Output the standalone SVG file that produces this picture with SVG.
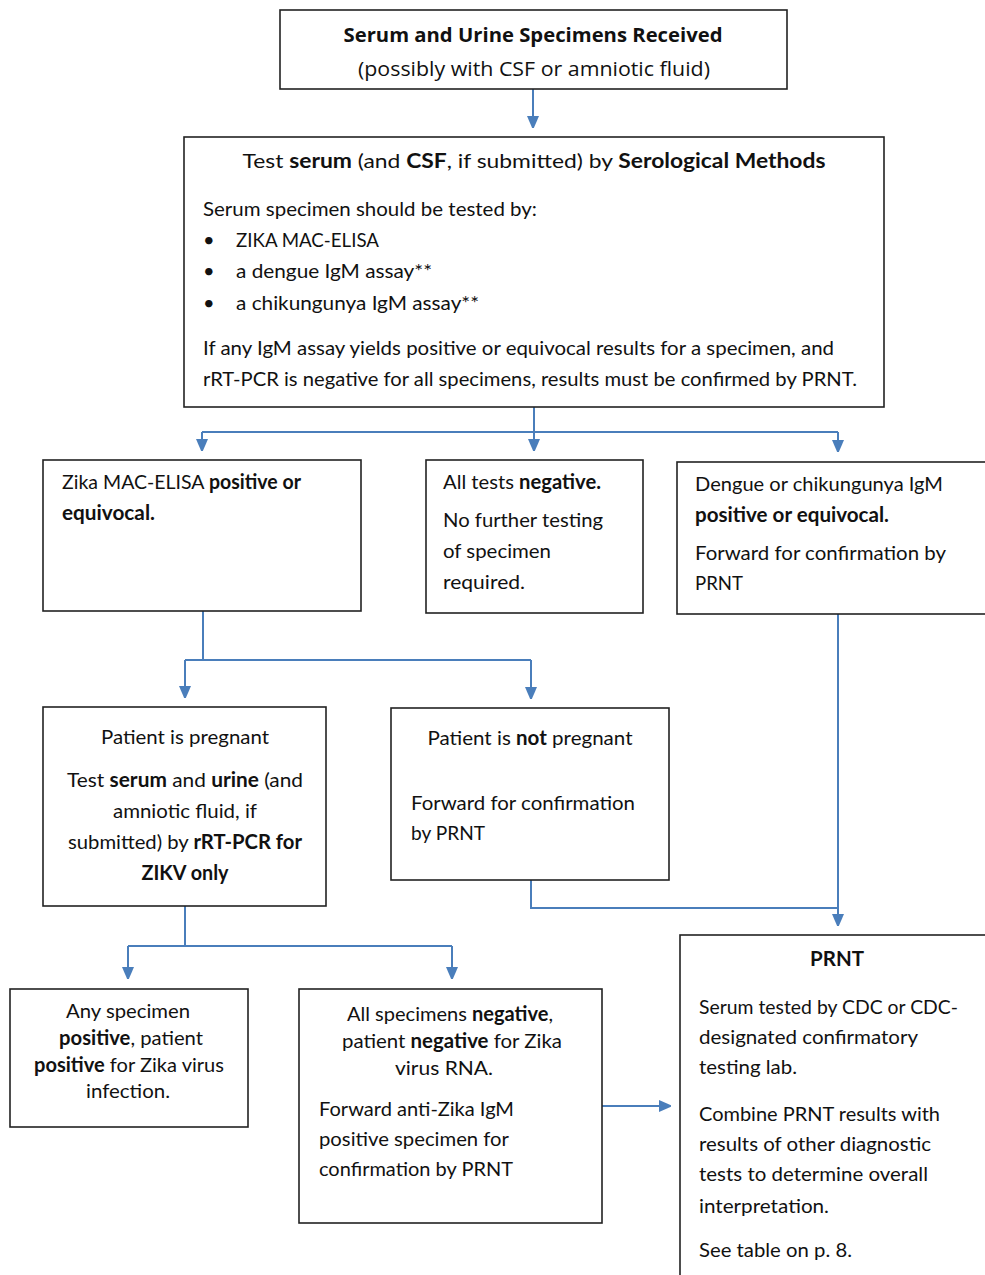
<svg xmlns="http://www.w3.org/2000/svg" width="985" height="1275" viewBox="0 0 985 1275">
<defs>
<marker id="arr" markerWidth="12" markerHeight="14" refX="7" refY="7" orient="auto" markerUnits="userSpaceOnUse">
<path d="M0,1 L14,7 L0,13 z" fill="#4a7ebb"/>
</marker>
<style>
.box{fill:#fff;stroke:#222;stroke-width:1.6}
.t{font-family:Lato,"Liberation Sans",sans-serif;font-size:20px;fill:#111}
.c{text-anchor:middle}
.top{font-family:"Open Sans","DejaVu Sans",sans-serif;font-size:20px;fill:#111}
.b{font-weight:bold}
.conn{fill:none;stroke:#4a7ebb;stroke-width:2}
</style>
</defs>
<rect width="985" height="1275" fill="#fff"/>
<g id="connectors">
<path class="conn" d="M533,89 V123" marker-end="url(#arr)"/>
<path class="conn" d="M534,407 V432"/>
<path class="conn" d="M202,432 H838"/>
<path class="conn" d="M202,432 V446" marker-end="url(#arr)"/>
<path class="conn" d="M534,432 V446" marker-end="url(#arr)"/>
<path class="conn" d="M838,432 V447" marker-end="url(#arr)"/>
<path class="conn" d="M203,611 V660"/>
<path class="conn" d="M185,660 H531"/>
<path class="conn" d="M185,660 V693" marker-end="url(#arr)"/>
<path class="conn" d="M531,660 V694" marker-end="url(#arr)"/>
<path class="conn" d="M838,614 V921" marker-end="url(#arr)"/>
<path class="conn" d="M531,880 V908 H838"/>
<path class="conn" d="M185,906 V946"/>
<path class="conn" d="M128,946 H452"/>
<path class="conn" d="M128,946 V974" marker-end="url(#arr)"/>
<path class="conn" d="M452,946 V974" marker-end="url(#arr)"/>
<path class="conn" d="M602,1106 H666" marker-end="url(#arr)"/>
</g>
<g id="n1">
<rect class="box" x="280" y="10" width="507" height="79"/>
<text class="top b c" x="533" y="42" textLength="379" lengthAdjust="spacingAndGlyphs">Serum and Urine Specimens Received</text>
<text class="top c" x="534" y="76" textLength="352" lengthAdjust="spacingAndGlyphs">(possibly with CSF or amniotic fluid)</text>
</g>
<g id="n2">
<rect class="box" x="184" y="137" width="700" height="270"/>
<text class="t c" x="534" y="168" textLength="583" lengthAdjust="spacingAndGlyphs">Test <tspan class="b">serum</tspan> (and <tspan class="b">CSF</tspan>, if submitted) by <tspan class="b">Serological Methods</tspan></text>
<text class="t" x="203" y="216" textLength="334" lengthAdjust="spacingAndGlyphs">Serum specimen should be tested by:</text>
<text class="t" x="203" y="247">•</text><text class="t" x="236" y="247" textLength="143" lengthAdjust="spacingAndGlyphs">ZIKA MAC-ELISA</text>
<text class="t" x="203" y="278">•</text><text class="t" x="236" y="278" textLength="196" lengthAdjust="spacingAndGlyphs">a dengue IgM assay**</text>
<text class="t" x="203" y="310">•</text><text class="t" x="236" y="310" textLength="243" lengthAdjust="spacingAndGlyphs">a chikungunya IgM assay**</text>
<text class="t" x="203" y="355" textLength="631" lengthAdjust="spacingAndGlyphs">If any IgM assay yields positive or equivocal results for a specimen, and</text>
<text class="t" x="203" y="386" textLength="654" lengthAdjust="spacingAndGlyphs">rRT-PCR is negative for all specimens, results must be confirmed by PRNT.</text>
</g>
<g id="n3">
<rect class="box" x="43" y="460" width="318" height="151"/>
<text class="t" x="62" y="489" textLength="239" lengthAdjust="spacingAndGlyphs">Zika MAC-ELISA <tspan class="b">positive or</tspan></text>
<text class="t b" x="62" y="520" textLength="93" lengthAdjust="spacingAndGlyphs">equivocal.</text>
</g>
<g id="n4">
<rect class="box" x="426" y="460" width="217" height="153"/>
<text class="t" x="443" y="489" textLength="158" lengthAdjust="spacingAndGlyphs">All tests <tspan class="b">negative.</tspan></text>
<text class="t" x="443" y="527" textLength="160" lengthAdjust="spacingAndGlyphs">No further testing</text>
<text class="t" x="443" y="558" textLength="108" lengthAdjust="spacingAndGlyphs">of specimen</text>
<text class="t" x="443" y="589" textLength="82" lengthAdjust="spacingAndGlyphs">required.</text>
</g>
<g id="n5">
<rect class="box" x="677" y="462" width="312" height="152"/>
<text class="t" x="695" y="491" textLength="248" lengthAdjust="spacingAndGlyphs">Dengue or chikungunya IgM</text>
<text class="t b" x="695" y="522" textLength="194" lengthAdjust="spacingAndGlyphs">positive or equivocal.</text>
<text class="t" x="695" y="560" textLength="251" lengthAdjust="spacingAndGlyphs">Forward for confirmation by</text>
<text class="t" x="695" y="590" textLength="48" lengthAdjust="spacingAndGlyphs">PRNT</text>
</g>
<g id="n6">
<rect class="box" x="43" y="707" width="283" height="199"/>
<text class="t c" x="185" y="744" textLength="168" lengthAdjust="spacingAndGlyphs">Patient is pregnant</text>
<text class="t c" x="185" y="787" textLength="236" lengthAdjust="spacingAndGlyphs">Test <tspan class="b">serum</tspan> and <tspan class="b">urine</tspan> (and</text>
<text class="t c" x="185" y="818" textLength="144" lengthAdjust="spacingAndGlyphs">amniotic fluid, if</text>
<text class="t c" x="185" y="849" textLength="234" lengthAdjust="spacingAndGlyphs">submitted) by <tspan class="b">rRT-PCR for</tspan></text>
<text class="t c b" x="185" y="880" textLength="87" lengthAdjust="spacingAndGlyphs">ZIKV only</text>
</g>
<g id="n7">
<rect class="box" x="391" y="708" width="278" height="172"/>
<text class="t c" x="530" y="745" textLength="205" lengthAdjust="spacingAndGlyphs">Patient is <tspan class="b">not</tspan> pregnant</text>
<text class="t" x="411" y="810" textLength="224" lengthAdjust="spacingAndGlyphs">Forward for confirmation</text>
<text class="t" x="411" y="840" textLength="74" lengthAdjust="spacingAndGlyphs">by PRNT</text>
</g>
<g id="n8">
<rect class="box" x="10" y="989" width="238" height="138"/>
<text class="t c" x="128" y="1018" textLength="124" lengthAdjust="spacingAndGlyphs">Any specimen</text>
<text class="t c" x="131" y="1045" textLength="144" lengthAdjust="spacingAndGlyphs"><tspan class="b">positive</tspan>, patient</text>
<text class="t c" x="129" y="1072" textLength="190" lengthAdjust="spacingAndGlyphs"><tspan class="b">positive</tspan> for Zika virus</text>
<text class="t c" x="128" y="1098" textLength="84" lengthAdjust="spacingAndGlyphs">infection.</text>
</g>
<g id="n9">
<rect class="box" x="299" y="989" width="303" height="234"/>
<text class="t c" x="450" y="1021" textLength="206" lengthAdjust="spacingAndGlyphs">All specimens <tspan class="b">negative</tspan>,</text>
<text class="t c" x="452" y="1048" textLength="220" lengthAdjust="spacingAndGlyphs">patient <tspan class="b">negative</tspan> for Zika</text>
<text class="t c" x="444" y="1075" textLength="98" lengthAdjust="spacingAndGlyphs">virus RNA.</text>
<text class="t" x="319" y="1116" textLength="195" lengthAdjust="spacingAndGlyphs">Forward anti-Zika IgM</text>
<text class="t" x="319" y="1146" textLength="190" lengthAdjust="spacingAndGlyphs">positive specimen for</text>
<text class="t" x="319" y="1176" textLength="194" lengthAdjust="spacingAndGlyphs">confirmation by PRNT</text>
</g>
<g id="n10">
<rect class="box" x="680" y="935" width="320" height="360"/>
<text class="t c b" x="837" y="966" textLength="54" lengthAdjust="spacingAndGlyphs">PRNT</text>
<text class="t" x="699" y="1014" textLength="259" lengthAdjust="spacingAndGlyphs">Serum tested by CDC or CDC-</text>
<text class="t" x="699" y="1044" textLength="219" lengthAdjust="spacingAndGlyphs">designated confirmatory</text>
<text class="t" x="699" y="1074" textLength="98" lengthAdjust="spacingAndGlyphs">testing lab.</text>
<text class="t" x="699" y="1121" textLength="241" lengthAdjust="spacingAndGlyphs">Combine PRNT results with</text>
<text class="t" x="699" y="1151" textLength="232" lengthAdjust="spacingAndGlyphs">results of other diagnostic</text>
<text class="t" x="699" y="1181" textLength="229" lengthAdjust="spacingAndGlyphs">tests to determine overall</text>
<text class="t" x="699" y="1213" textLength="130" lengthAdjust="spacingAndGlyphs">interpretation.</text>
<text class="t" x="699" y="1257" textLength="153" lengthAdjust="spacingAndGlyphs">See table on p. 8.</text>
</g>
</svg>
